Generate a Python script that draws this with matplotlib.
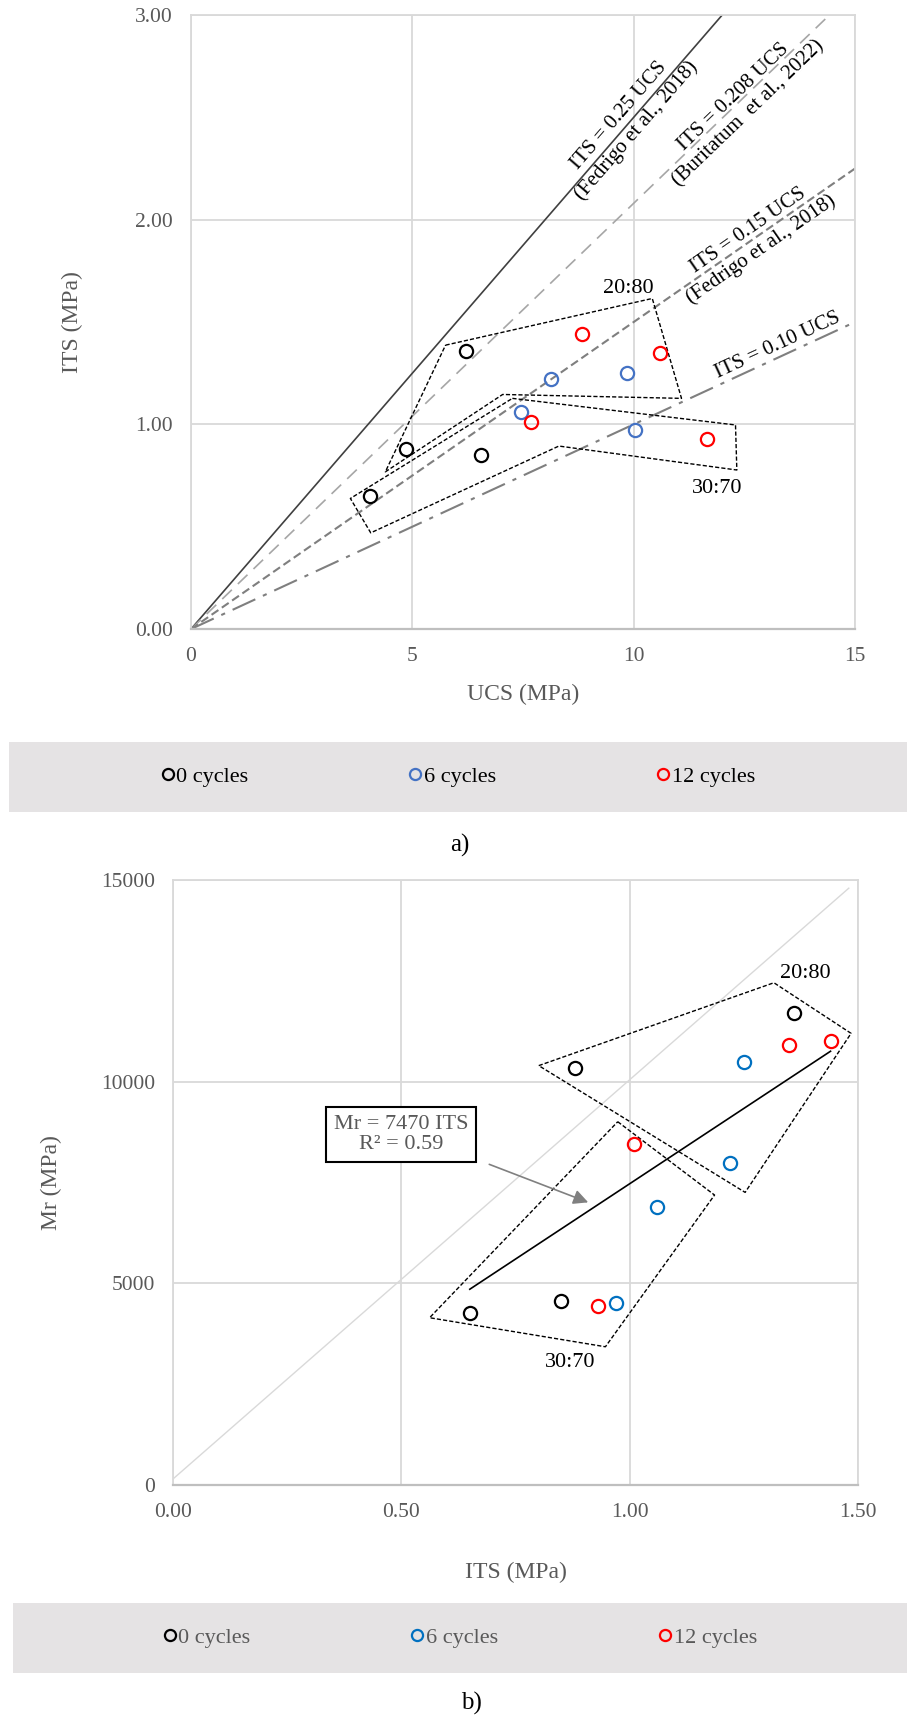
import numpy as np
import matplotlib.pyplot as plt
from matplotlib.lines import Line2D

plt.rcParams['font.family'] = ['Liberation Serif', 'DejaVu Serif']

# данные: UCS, ITS и Mr для каждого числа циклов
ucs_0 = [4.05, 4.85, 6.55, 6.22]
its_0 = [0.65, 0.88, 0.85, 1.36]
mr_0 = [4270, 10350, 4560, 11700]

ucs_6 = [8.13, 9.84, 7.45, 10.03]
its_6 = [1.22, 1.25, 1.06, 0.97]
mr_6 = [7990, 10480, 6900, 4510]

ucs_12 = [8.83, 10.60, 7.68, 11.66]
its_12 = [1.44, 1.35, 1.01, 0.93]
mr_12 = [11010, 10900, 8450, 4440]

series_names = ['0 cycles', '6 cycles', '12 cycles']

# ITS = k * UCS
ratios = [0.25, 0.208, 0.15, 0.10]
ratio_labels = ['ITS = 0.25 UCS\n(Fedrigo et al., 2018)',
                'ITS = 0.208 UCS\n(Buritatum  et al., 2022)',
                'ITS = 0.15 UCS\n(Fedrigo et al., 2018)',
                'ITS = 0.10 UCS']

# Mr = 7470 ITS
mr_coef = 7470
mr_r2 = 0.59

# контуры групп 20:80 и 30:70
poly_a_2080 = [(5.75, 1.387), (10.42, 1.615), (11.08, 1.127), (7.04, 1.146), (4.39, 0.768)]
poly_a_3070 = [(7.26, 1.127), (12.30, 0.997), (12.33, 0.777), (8.31, 0.894), (4.06, 0.470), (3.60, 0.638)]
poly_b_2080 = [(0.801, 10400), (1.316, 12455), (1.485, 11200), (1.253, 7257)]
poly_b_3070 = [(0.974, 9009), (1.186, 7191), (0.947, 3429), (0.562, 4149)]

grid_c = '#d9d9d9'
tick_c = '#595959'
fs_tick = 15.5
fs_label = 17

fig = plt.figure(figsize=(9.07, 17.22), dpi=100)
ax1 = fig.add_axes([0.2106, 0.6347, 0.7321, 0.3566])
ax2 = fig.add_axes([0.1907, 0.1376, 0.7552, 0.3513])


def style_axes(ax):
    ax.grid(True, color=grid_c, linewidth=1.3)
    ax.set_axisbelow(True)
    for name, s in ax.spines.items():
        s.set_color(grid_c)
        s.set_linewidth(1.3)
    ax.spines['bottom'].set_color('#bfbfbf')
    ax.spines['bottom'].set_linewidth(1.6)
    ax.tick_params(length=0, pad=13, labelsize=fs_tick, labelcolor=tick_c)


def polygon(ax, pts):
    xs = [p[0] for p in pts] + [pts[0][0]]
    ys = [p[1] for p in pts] + [pts[0][1]]
    ax.plot(xs, ys, color='black', linewidth=1.0, dashes=(3, 1.5), zorder=2)


def line_angle(ax, k):
    p = ax.transData.transform([(0, 0), (1, k)])
    return np.degrees(np.arctan2(p[1, 1] - p[0, 1], p[1, 0] - p[0, 0]))


# ---------------- a) ----------------
ax1.set_xlim(0, 15)
ax1.set_ylim(0, 3)
ax1.set_xticks([0, 5, 10, 15])
ax1.set_yticks([0, 1, 2, 3])
ax1.yaxis.set_major_formatter(plt.FormatStrFormatter('%.2f'))
style_axes(ax1)

x_line = np.array([0, 15])
line_styles = [dict(color='#404040', linewidth=1.2, linestyle='-'),
               dict(color='#a6a6a6', linewidth=1.2, dashes=(8, 5)),
               dict(color='#7f7f7f', linewidth=1.5, dashes=(4, 2)),
               dict(color='#7f7f7f', linewidth=1.5, dashes=(12, 4, 2, 4))]
for k, st in zip(ratios, line_styles):
    ax1.plot(x_line, k * x_line, zorder=1, **st)

text_pos = [(9.87, 2.47), (12.42, 2.56), (12.74, 1.90), (13.26, 1.385)]
for k, lab, (tx, ty) in zip(ratios, ratio_labels, text_pos):
    ax1.text(tx, ty, lab, rotation=line_angle(ax1, k), rotation_mode='anchor',
             ha='center', va='center', multialignment='center',
             fontsize=15, color='black', linespacing=1.2)

polygon(ax1, poly_a_2080)
polygon(ax1, poly_a_3070)
ax1.text(9.87, 1.665, '20:80', ha='center', va='center', fontsize=16)
ax1.text(11.89, 0.687, '30:70', ha='center', va='center', fontsize=16)

colors_a = ['black', '#4472c4', '#ff0000']
for xs, ys, c in zip([ucs_0, ucs_6, ucs_12], [its_0, its_6, its_12], colors_a):
    ax1.plot(xs, ys, linestyle='none', marker='o', markersize=9.5,
             markerfacecolor='none', markeredgecolor=c, markeredgewidth=1.6, zorder=3)

ax1.set_xlabel('UCS (MPa)', fontsize=fs_label, color=tick_c)
ax1.set_ylabel('ITS (MPa)', fontsize=fs_label, color=tick_c)
ax1.xaxis.set_label_coords(0.5, -0.106)
ax1.xaxis.label.set_va('center')
ax1.yaxis.set_label_coords(-0.179, 0.5)
ax1.yaxis.label.set_va('center')

# ---------------- b) ----------------
ax2.set_xlim(0, 1.5)
ax2.set_ylim(0, 15000)
ax2.set_xticks([0, 0.5, 1.0, 1.5])
ax2.set_yticks([0, 5000, 10000, 15000])
ax2.xaxis.set_major_formatter(plt.FormatStrFormatter('%.2f'))
style_axes(ax2)

ax2.plot([0, 1.48], [150, 14800], color='#d9d9d9', linewidth=1.0, zorder=1)

its_all = its_0 + its_6 + its_12
x_fit = np.array([min(its_all), max(its_all)])
ax2.plot(x_fit, mr_coef * x_fit, color='black', linewidth=1.2, zorder=2)

polygon(ax2, poly_b_2080)
polygon(ax2, poly_b_3070)
ax2.text(1.384, 12687, '20:80', ha='center', va='center', fontsize=16)
ax2.text(0.869, 3033, '30:70', ha='center', va='center', fontsize=16)

ax2.text(0.499, 8686, f'Mr = {mr_coef} ITS\nR² = {mr_r2}', ha='center', va='center',
         fontsize=16, color=tick_c, linespacing=1.1,
         bbox=dict(boxstyle='square,pad=0.35', facecolor='white', edgecolor='black', linewidth=1.5))
ax2.annotate('', xy=(0.915, 6985), xytext=(0.687, 7977),
             arrowprops=dict(arrowstyle='-|>', color='#808080', linewidth=1.2, mutation_scale=22))

colors_b = ['black', '#0070c0', '#ff0000']
for xs, ys, c in zip([its_0, its_6, its_12], [mr_0, mr_6, mr_12], colors_b):
    ax2.plot(xs, ys, linestyle='none', marker='o', markersize=9.5,
             markerfacecolor='none', markeredgecolor=c, markeredgewidth=1.6, zorder=3)

ax2.set_xlabel('ITS (MPa)', fontsize=fs_label, color=tick_c)
ax2.set_ylabel('Mr (MPa)', fontsize=fs_label, color=tick_c)
ax2.xaxis.set_label_coords(0.5, -0.145)
ax2.xaxis.label.set_va('center')
ax2.yaxis.set_label_coords(-0.177, 0.5)
ax2.yaxis.label.set_va('center')


# ---------------- легенды ----------------
def legend_band(rect, colors, text_color):
    lax = fig.add_axes(rect)
    lax.set_facecolor('#e5e3e4')
    for s in lax.spines.values():
        s.set_visible(False)
    lax.set_xticks([])
    lax.set_yticks([])
    handles = [Line2D([], [], linestyle='none', marker='o', markersize=8,
                      markerfacecolor='none', markeredgecolor=c, markeredgewidth=1.6, label=n)
               for c, n in zip(colors, series_names)]
    lax.legend(handles=handles, loc='center', ncol=3, frameon=False, fontsize=16,
               handlelength=0.6, handletextpad=0.1, columnspacing=7.2, labelcolor=text_color)


legend_band([0.0099, 0.5285, 0.9901, 0.0407], colors_a, 'black')
legend_band([0.0143, 0.0285, 0.9857, 0.0407], colors_b, tick_c)

fig.text(460 / 907, 1 - 845 / 1722, 'a)', ha='center', va='center', fontsize=18)
fig.text(471 / 907, 1 - 1703 / 1722, 'b)', ha='center', va='center', fontsize=18)

fig.savefig('out.png', dpi=100)
